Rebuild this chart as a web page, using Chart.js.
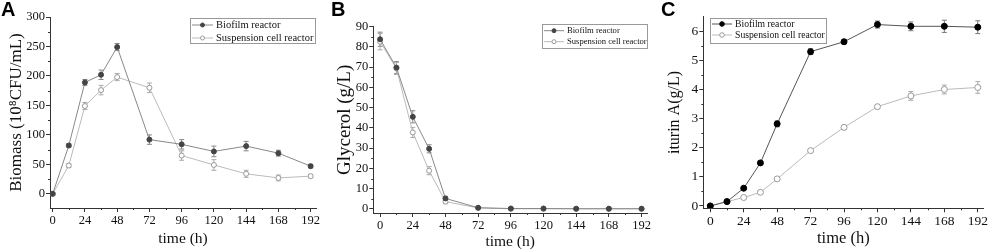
<!DOCTYPE html>
<html>
<head>
<meta charset="utf-8">
<script src="https://cdn.jsdelivr.net/npm/chart.js@4/dist/chart.umd.min.js"></script>
<style>
body { margin: 0; background: #fff; width: 989px; height: 250px; overflow: hidden; position: relative; }
canvas { position: absolute; top: 0; }
</style>
</head>
<body>
<canvas id="chartA" width="330" height="250" style="left:0"></canvas>
<canvas id="chartB" width="330" height="250" style="left:330px"></canvas>
<canvas id="chartC" width="329" height="250" style="left:660px"></canvas>
<script>
const times = [0, 12, 24, 36, 48, 72, 96, 120, 144, 168, 192];
const timeTicks = [0, 24, 48, 72, 96, 120, 144, 168, 192];

// A - biomass
const biomassBiofilm = [0, 82, 189, 202, 249, 92, 84, 72, 81, 69, 47];
const biomassBiofilmErr = [2, 3, 5, 8, 6, 8, 8, 9, 8, 5, 3];
const biomassSusp = [0, 48, 149, 176, 198, 180, 65, 49, 34, 27, 30];
const biomassSuspErr = [2, 3, 6, 8, 6, 8, 8, 9, 6, 5, 3];
const biomassTicks = [0, 50, 100, 150, 200, 250, 300];

// B - glycerol
const glycerolBiofilm = [83.8, 69.8, 45.5, 29.7, 5.2, 0.6, 0.2, 0.2, 0.1, 0.1, 0.1];
const glycerolBiofilmErr = [3.5, 3, 3, 2, 1, 0.3, 0.2, 0.2, 0.1, 0.1, 0.1];
const glycerolSusp = [82.6, 69.4, 37.8, 18.9, 3.6, 0.5, 0.1, 0.1, 0.1, 0.1, 0.1];
const glycerolSuspErr = [4, 3, 2.5, 2, 1, 0.3, 0.2, 0.2, 0.1, 0.1, 0.1];
const glycerolTicks = [0, 10, 20, 30, 40, 50, 60, 70, 80, 90];

// C - iturin A
const iturinBiofilm = [0, 0.15, 0.61, 1.48, 2.82, 5.3, 5.64, 6.23, 6.17, 6.17, 6.14];
const iturinBiofilmErr = [0.02, 0.03, 0.04, 0.05, 0.1, 0.1, 0.08, 0.12, 0.15, 0.21, 0.22];
const iturinSusp = [0, 0.15, 0.29, 0.47, 0.93, 1.9, 2.7, 3.41, 3.78, 4.0, 4.07];
const iturinSuspErr = [0.02, 0.03, 0.03, 0.04, 0.05, 0.05, 0.07, 0.07, 0.15, 0.15, 0.2];
const iturinTicks = [0, 1, 2, 3, 4, 5, 6];

const legendLabels = ['Biofilm reactor', 'Suspension cell reactor'];

const serif = '"Liberation Serif", "DejaVu Serif", serif';
const axisColor = '#333';

const toPoints = (values) => times.map((t, i) => ({x: t, y: values[i]}));

// error bars drawn through the chart scales
const errorBarPlugin = {
    id: 'errorBars',
    beforeDatasetsDraw(chart) {
        const ctx = chart.ctx;
        const xs = chart.scales.x, ys = chart.scales.y;
        chart.data.datasets.forEach((ds) => {
            if (!ds.errors) return;
            ctx.save();
            ctx.strokeStyle = ds.errorColor;
            ctx.lineWidth = 1;
            ds.data.forEach((p, i) => {
                const x = xs.getPixelForValue(p.x);
                const y1 = ys.getPixelForValue(p.y - ds.errors[i]);
                const y2 = ys.getPixelForValue(p.y + ds.errors[i]);
                ctx.beginPath();
                ctx.moveTo(x, y1); ctx.lineTo(x, y2);
                ctx.moveTo(x - 2.5, y1); ctx.lineTo(x + 2.5, y1);
                ctx.moveTo(x - 2.5, y2); ctx.lineTo(x + 2.5, y2);
                ctx.stroke();
            });
            ctx.restore();
        });
    }
};

// minor ticks, panel letter and boxed legend
const decorPlugin = {
    id: 'decor',
    afterDraw(chart, args, opts) {
        const ctx = chart.ctx;
        const xs = chart.scales.x, ys = chart.scales.y;
        ctx.save();
        ctx.strokeStyle = axisColor;
        ctx.lineWidth = 1;
        ctx.beginPath();
        for (let v = opts.minorX / 2; v < xs.max; v += opts.minorX) {
            if (v < xs.min) continue;
            const x = Math.round(xs.getPixelForValue(v)) + 0.5;
            ctx.moveTo(x, xs.top); ctx.lineTo(x, xs.top + 2);
        }
        for (let v = opts.minorY / 2; v < ys.max; v += opts.minorY) {
            const y = Math.round(ys.getPixelForValue(v)) + 0.5;
            ctx.moveTo(ys.right, y); ctx.lineTo(ys.right - 2, y);
        }
        ctx.stroke();

        // panel letter
        ctx.fillStyle = '#000';
        ctx.font = 'bold 20px "Liberation Sans", Arial, sans-serif';
        ctx.textBaseline = 'top';
        ctx.textAlign = 'left';
        ctx.fillText(opts.letter, 1, 0);

        // legend
        const lg = opts.legend;
        ctx.strokeStyle = '#999';
        ctx.strokeRect(lg.x + 0.5, lg.y + 0.5, lg.w, lg.h);
        ctx.font = lg.size + 'px ' + serif;
        ctx.textBaseline = 'middle';
        chart.data.datasets.forEach((ds, i) => {
            const y = lg.y + lg.rowTop + i * lg.rowGap;
            ctx.strokeStyle = ds.borderColor;
            ctx.beginPath();
            ctx.moveTo(lg.x + 2, y); ctx.lineTo(lg.x + 2 + lg.line, y);
            ctx.stroke();
            ctx.beginPath();
            ctx.arc(lg.x + 2 + lg.line / 2, y, lg.marker, 0, Math.PI * 2);
            ctx.fillStyle = ds.pointBackgroundColor;
            ctx.fill();
            ctx.strokeStyle = ds.pointBorderColor;
            ctx.stroke();
            ctx.fillStyle = '#111';
            ctx.fillText(legendLabels[i], lg.x + lg.line + 5, y + 0.5);
        });
        ctx.restore();
    }
};

const makeChart = (id, cfg) => {
    const fixedTicks = (list) => (scale) => { scale.ticks = list.map((v) => ({value: v})); };
    return new Chart(document.getElementById(id), {
        type: 'line',
        data: {
            datasets: [{
                data: toPoints(cfg.bio),
                errors: cfg.bioErr,
                errorColor: cfg.bioErrColor,
                borderColor: cfg.bioLine,
                borderWidth: 1,
                pointRadius: cfg.radius,
                pointBackgroundColor: cfg.bioPoint,
                pointBorderColor: cfg.bioPoint,
                pointBorderWidth: 1
            }, {
                data: toPoints(cfg.susp),
                errors: cfg.suspErr,
                errorColor: '#aaa',
                borderColor: '#bbb',
                borderWidth: 1,
                pointRadius: cfg.radius,
                pointBackgroundColor: '#fff',
                pointBorderColor: '#999',
                pointBorderWidth: 1
            }]
        },
        options: {
            responsive: false,
            animation: false,
            layout: {padding: {top: cfg.top, right: cfg.right, left: 0, bottom: 0}},
            plugins: {
                legend: {display: false},
                tooltip: {enabled: false},
                decor: {letter: cfg.letter, minorX: 24, minorY: cfg.yTicks[1] - cfg.yTicks[0], legend: cfg.legend}
            },
            scales: {
                x: {
                    type: 'linear',
                    min: cfg.xMin, max: 196,
                    afterBuildTicks: fixedTicks(timeTicks),
                    afterFit: (s) => { s.height = cfg.xHeight; },
                    grid: {drawOnChartArea: false, tickLength: 4, color: axisColor},
                    border: {color: axisColor},
                    ticks: {font: {family: serif, size: cfg.tickSize}, color: '#111', padding: 1, maxRotation: 0},
                    title: {display: true, text: 'time (h)', color: '#111',
                        font: {family: serif, size: cfg.xTitleSize, lineHeight: 1},
                        padding: {top: 0, bottom: cfg.xTitlePad}}
                },
                y: {
                    min: cfg.yMin, max: cfg.yMax,
                    afterBuildTicks: fixedTicks(cfg.yTicks),
                    afterFit: (s) => { s.width = cfg.yWidth; },
                    grid: {drawOnChartArea: false, tickLength: 4, color: axisColor},
                    border: {color: axisColor},
                    ticks: {font: {family: serif, size: cfg.tickSize}, color: '#111', padding: 1},
                    title: {display: true, text: cfg.yTitle, color: '#111',
                        font: {family: serif, size: cfg.yTitleSize, lineHeight: 1},
                        padding: {top: cfg.yTitlePad, bottom: 0}}
                }
            }
        },
        plugins: [errorBarPlugin, decorPlugin]
    });
};

makeChart('chartA', {
    letter: 'A',
    bio: biomassBiofilm, bioErr: biomassBiofilmErr, susp: biomassSusp, suspErr: biomassSuspErr,
    bioLine: '#888', bioPoint: '#444', bioErrColor: '#888', radius: 2.5,
    xMin: -2, yMin: -24, yMax: 300, yTicks: biomassTicks,
    top: 17, right: 14, yWidth: 50, xHeight: 42,
    tickSize: 12.5, xTitleSize: 15.5, xTitlePad: 3.5,
    yTitle: 'Biomass (10⁸CFU/mL)', yTitleSize: 17, yTitlePad: 8.5,
    legend: {x: 190, y: 18, w: 125, h: 25, rowTop: 7, rowGap: 13, line: 21, size: 10.5, marker: 2}
});

makeChart('chartB', {
    letter: 'B',
    bio: glycerolBiofilm, bioErr: glycerolBiofilmErr, susp: glycerolSusp, suspErr: glycerolSuspErr,
    bioLine: '#888', bioPoint: '#444', bioErrColor: '#888', radius: 2.5,
    xMin: -5, yMin: -2, yMax: 90, yTicks: glycerolTicks,
    top: 26.7, right: 13, yWidth: 43.3, xHeight: 37,
    tickSize: 12.5, xTitleSize: 15.5, xTitlePad: 0,
    yTitle: 'Glycerol (g/L)', yTitleSize: 19, yTitlePad: 5.5,
    legend: {x: 212, y: 24, w: 105, h: 24, rowTop: 6.7, rowGap: 11, line: 20, size: 8.6, marker: 2}
});

makeChart('chartC', {
    letter: 'C',
    bio: iturinBiofilm, bioErr: iturinBiofilmErr, susp: iturinSusp, suspErr: iturinSuspErr,
    bioLine: '#555', bioPoint: '#000', bioErrColor: '#777', radius: 3,
    xMin: -5, yMin: -0.08, yMax: 6.5, yTicks: iturinTicks,
    top: 16.7, right: 4, yWidth: 43.3, xHeight: 41.7,
    tickSize: 13.5, xTitleSize: 16.5, xTitlePad: 3.5,
    yTitle: 'iturin A(g/L)', yTitleSize: 16, yTitlePad: 7,
    legend: {x: 50, y: 18, w: 116, h: 25, rowTop: 6, rowGap: 11, line: 20, size: 9.7, marker: 2.3}
});
</script>
</body>
</html>
